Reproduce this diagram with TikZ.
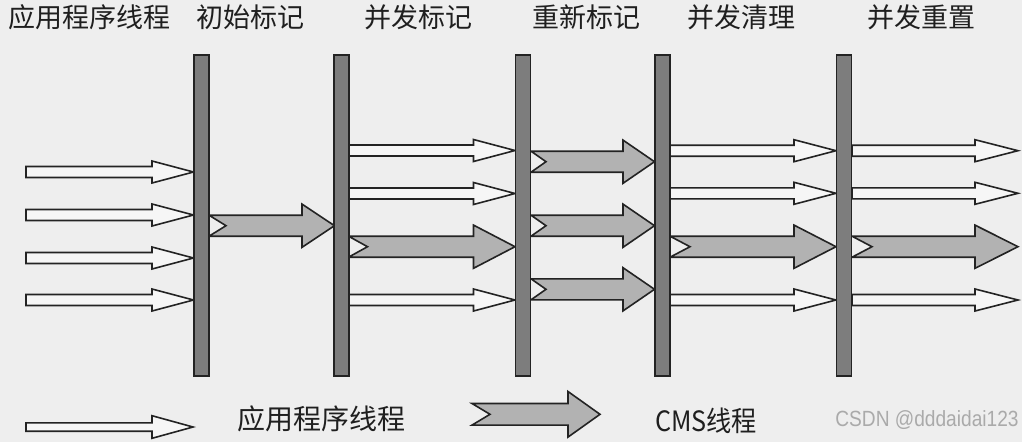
\documentclass[tikz,border=0pt]{standalone}
\usepackage{fontspec}
\newfontfamily\cjk{Noto Sans CJK SC}
\newfontfamily\wmfont{Liberation Sans}
\definecolor{bgcol}{RGB}{238,238,238}
\definecolor{barfill}{RGB}{125,125,125}
\definecolor{edgecol}{RGB}{35,35,35}
\definecolor{cmsfill}{RGB}{178,178,178}
\definecolor{appfill}{RGB}{246,246,246}
\definecolor{wmcol}{RGB}{170,170,170}
\newcommand\blockarrow[8]{% style, x1, xbase, xtip, y, shaft half, head half, notch
  \draw[#1] ({#2},{#5-#6}) -- ({#3},{#5-#6}) -- ({#3},{#5-#7}) -- ({#4},{#5})
    -- ({#3},{#5+#7}) -- ({#3},{#5+#6}) -- ({#2},{#5+#6}) -- ({#2+#8},{#5}) -- cycle;}
\tikzset{
  apparr/.style={draw=edgecol, fill=appfill, line width=1.6pt, line join=miter},
  cmsarr/.style={draw=edgecol, fill=cmsfill, line width=1.6pt, line join=miter},
  barbox/.style={draw=edgecol, fill=barfill, line width=1.6pt, minimum width=15pt, minimum height=321pt, inner sep=0pt},
  toplabel/.style={font=\cjk\fontsize{27}{30}\selectfont, inner sep=0pt, text=black!88},
  leglabel/.style={font=\cjk\fontsize{28}{30}\selectfont, inner sep=0pt, text=black!88}
}
\begin{document}
\begin{tikzpicture}[x=1pt,y=-1pt]
\fill[bgcol] (0,0) rectangle (1022,442);
\useasboundingbox (0,0) rectangle (1022,442);
% top labels
\node[toplabel] (t1) at (89.5,17) {应用程序线程};
\node[toplabel] (t2) at (250,17) {初始标记};
\node[toplabel] (t3) at (418,17) {并发标记};
\node[toplabel] (t4) at (586,17) {重新标记};
\node[toplabel] (t5) at (741,17) {并发清理};
\node[toplabel] (t6) at (921,17) {并发重置};
% application threads before initial mark
\foreach \yy in {172,215,258,300}{\blockarrow{apparr}{26}{152}{193.5}{\yy}{5.5}{11}{0}}
% initial mark -> concurrent mark
\blockarrow{cmsarr}{209}{302}{334.5}{225.7}{10.5}{21.6}{17}
% concurrent mark
\foreach \yy in {150.5,193.5,300}{\blockarrow{apparr}{348.5}{473.5}{515}{\yy}{5.5}{11}{0}}
\blockarrow{cmsarr}{348.5}{473.5}{515}{246.7}{10.5}{21.6}{19}
% remark
\foreach \yy in {161.7,225.7,289.3}{\blockarrow{cmsarr}{531}{623}{654.5}{\yy}{10.5}{21.6}{15}}
% concurrent sweep
\foreach \yy in {150.7,193.3,300}{\blockarrow{apparr}{670}{794}{836}{\yy}{5.5}{11}{0}}
\blockarrow{cmsarr}{670}{794}{836}{246.7}{10.5}{21.6}{20}
% concurrent reset
\foreach \yy in {150.7,193.3,300}{\blockarrow{apparr}{852}{975}{1018}{\yy}{5.5}{11}{0}}
\blockarrow{cmsarr}{852}{975}{1018}{246.7}{10.5}{21.6}{20}
% bars
\node[barbox] (b1) at (201.2,215.5) {};
\node[barbox] (b2) at (341.5,215.5) {};
\node[barbox] (b3) at (523,215.5) {};
\node[barbox] (b4) at (662.2,215.5) {};
\node[barbox] (b5) at (844,215.5) {};
% legend
\blockarrow{apparr}{26}{152}{193}{427}{4.2}{11.3}{0}
\node[leglabel] (l1) at (321,419) {应用程序线程};
\blockarrow{cmsarr}{472}{568}{600}{414.3}{10.8}{22.8}{18}
\node[leglabel, xscale=0.9] (l2) at (706,421) {CMS线程};
\node[font=\wmfont\fontsize{22}{24}\selectfont, text=wmcol, inner sep=0pt, xscale=0.87] (wm) at (927,420) {CSDN @dddaidai123};
\end{tikzpicture}
\end{document}
